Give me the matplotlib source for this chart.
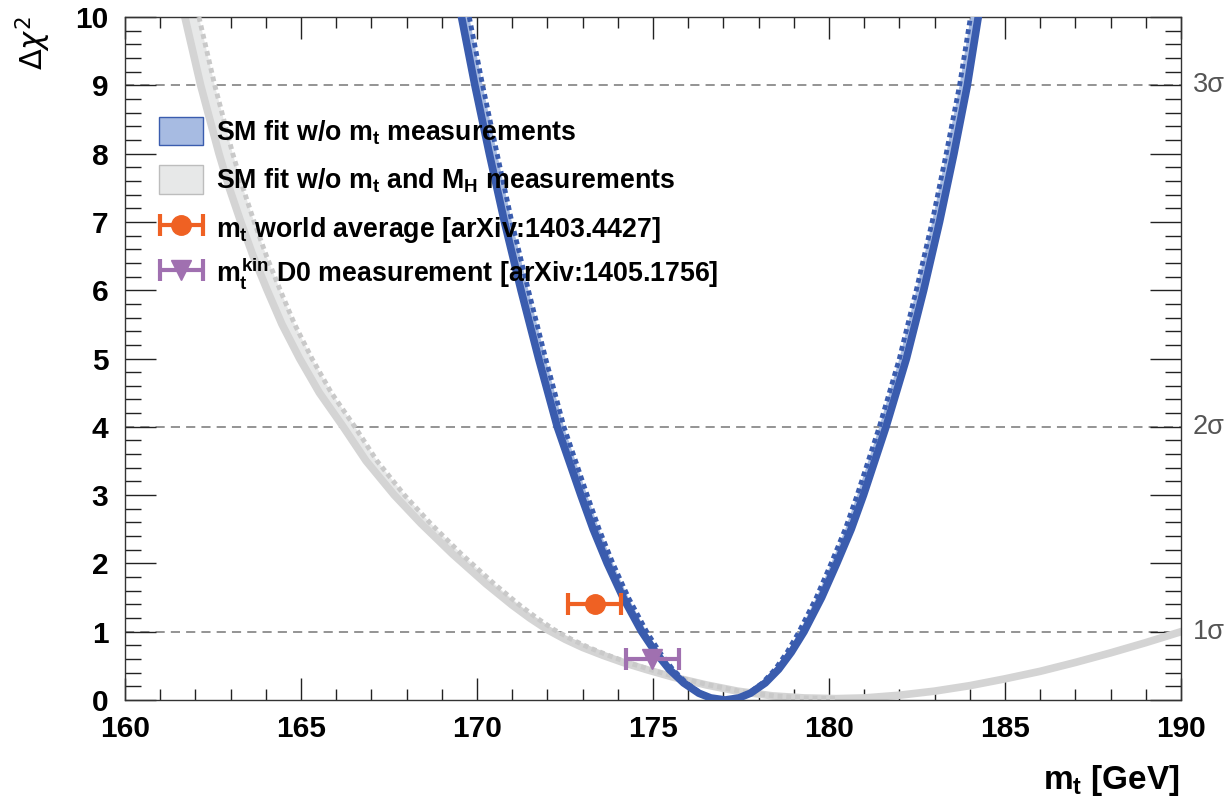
import matplotlib
matplotlib.use('Agg')
import numpy as np
import matplotlib.pyplot as plt
from matplotlib.patches import Patch
from matplotlib.ticker import MultipleLocator
from matplotlib.container import ErrorbarContainer
from matplotlib.legend_handler import HandlerErrorbar

plt.rcParams['font.family'] = 'Liberation Sans'
plt.rcParams['mathtext.fontset'] = 'custom'
plt.rcParams['mathtext.rm'] = 'Liberation Sans:bold'
plt.rcParams['mathtext.it'] = 'Liberation Sans:bold'
plt.rcParams['mathtext.bf'] = 'Liberation Sans:bold'

# SM fit w/o mt and MH : full curve and the curve without theory errors (dotted)
gray_mass = [161.70, 162.15, 162.67, 162.96, 163.29, 163.64, 164.04, 164.46, 164.96,
             165.52, 166.20, 166.85, 167.65, 168.40, 169.30, 170.26, 171.00, 171.50,
             172.00, 172.50, 173.00, 173.60, 174.15, 174.85, 175.57, 176.52, 177.40,
             178.40, 179.30, 180.20,
             181.00, 182.00, 183.00, 184.00, 185.00, 186.00, 187.00, 188.00, 189.00, 190.00]
gray_chi2 = [10.0, 9.0, 8.0, 7.5, 7.0, 6.5, 6.0, 5.5, 5.0,
             4.5, 4.0, 3.5, 3.0, 2.59, 2.14, 1.70, 1.39, 1.20,
             1.03, 0.89, 0.77, 0.65, 0.55, 0.44, 0.335, 0.22, 0.13,
             0.06, 0.03, 0.02,
             0.03, 0.07, 0.13, 0.21, 0.31, 0.42, 0.55, 0.69, 0.84, 1.00]
gray_dot_mass = [162.10, 162.55, 163.06, 163.35, 163.67, 164.02, 164.41, 164.82, 165.31,
                 165.86, 166.53, 167.16, 167.94, 168.67, 169.55, 170.49, 171.21, 171.70,
                 172.19, 172.68, 173.17, 173.75, 174.28, 174.96, 175.66, 176.59, 177.45,
                 178.43, 179.30, 180.20]
gray_dot_chi2 = gray_chi2[:len(gray_dot_mass)]

# SM fit w/o mt (left branch, minimum, right branch)
blue_chi2 = [10.0, 9.0, 8.0, 7.0, 6.0, 5.0, 4.0, 3.0, 2.5, 2.0, 1.5, 1.0, 0.7, 0.45,
             0.25, 0.1, 0.03, 0.0, 0.03, 0.1, 0.25, 0.45, 0.7, 1.0, 1.5, 2.0, 2.5, 3.0,
             4.0, 5.0, 6.0, 7.0, 8.0, 9.0, 10.0]
blue_mass = [169.56, 169.94, 170.35, 170.78, 171.25, 171.75, 172.28, 172.95, 173.30,
             173.70, 174.15, 174.68, 175.07, 175.46, 175.87, 176.30, 176.64, 177.05,
             177.44, 177.77, 178.19, 178.57, 178.93, 179.29, 179.79, 180.22, 180.63,
             180.98, 181.62, 182.20, 182.69, 183.14, 183.55, 183.93, 184.24]
blue_dot_mass = [169.78, 170.16, 170.57, 170.99, 171.46, 171.95, 172.47, 173.13, 173.47,
                 173.86, 174.30, 174.82, 175.19, 175.56, 175.95, 176.35, 176.67, 177.05,
                 177.41, 177.72, 178.11, 178.47, 178.81, 179.15, 179.64, 180.06, 180.46,
                 180.80, 181.43, 182.00, 182.48, 182.93, 183.33, 183.71, 184.02]

# direct measurements
wa_mass, wa_err, wa_y = 173.34, 0.76, 1.4
d0_mass, d0_err, d0_y = 174.98, 0.76, 0.6

sigma_levels = [1, 4, 9]
sigma_labels = ['1σ', '2σ', '3σ']

blue_line = '#3a5cae'
blue_band = '#a7bbe2'
gray_line = '#d4d4d4'
gray_band = '#e7e8e8'

fig = plt.figure(figsize=(12.32, 8.02), dpi=100)
ax = fig.add_axes([125/1232, 1-700/802, (1181-125)/1232, (700-17)/802])

for lvl in sigma_levels:
    ax.axhline(lvl, color='#777777', lw=1.1, ls=(0, (6, 4)), zorder=1)

# gray band between full and dotted curve (left branch only, they merge at the minimum)
n = len(gray_dot_mass)
ax.fill(np.r_[gray_mass[:n], gray_dot_mass[::-1]], np.r_[gray_chi2[:n], gray_dot_chi2[::-1]],
        color=gray_band, lw=0, zorder=2)
ax.plot(gray_mass, gray_chi2, color=gray_line, lw=5.5, solid_joinstyle='round', zorder=2.5)
ax.plot(gray_dot_mass, gray_dot_chi2, color='#c9c9c9', lw=3.5, ls=(0, (1, 0.8)), zorder=2.6)

ax.fill(np.r_[blue_mass, blue_dot_mass[::-1]], np.r_[blue_chi2, blue_chi2[::-1]],
        color=blue_band, lw=0, zorder=3)
ax.plot(blue_mass, blue_chi2, color=blue_line, lw=5.5, solid_joinstyle='round', zorder=3.5)
ax.plot(blue_dot_mass, blue_chi2, color=blue_line, lw=3.5, ls=(0, (1, 0.8)), zorder=3.6)

wa = ax.errorbar(wa_mass, wa_y, xerr=wa_err, fmt='o', color='#ef6123', ms=14,
                 elinewidth=3, capsize=8, capthick=3, zorder=6)
d0 = ax.errorbar(d0_mass, d0_y, xerr=d0_err, fmt='v', color='#a070b0', ms=15,
                 elinewidth=3, capsize=8, capthick=3, zorder=6)

ax.set_xlim(160, 190)
ax.set_ylim(0, 10)
ax.xaxis.set_major_locator(MultipleLocator(5))
ax.xaxis.set_minor_locator(MultipleLocator(1))
ax.yaxis.set_major_locator(MultipleLocator(1))
ax.yaxis.set_minor_locator(MultipleLocator(0.2))
ax.tick_params(which='both', direction='in', top=True, right=True, color='#222222', width=1)
ax.tick_params(axis='x', which='major', length=15.5, pad=11, labelsize=21.5)
ax.tick_params(axis='x', which='minor', length=8)
ax.tick_params(axis='y', which='major', length=22, pad=12, labelsize=21.5)
ax.tick_params(axis='y', which='minor', length=11.5)
for lab in ax.get_xticklabels() + ax.get_yticklabels():
    lab.set_fontweight('bold')
for sp in ax.spines.values():
    sp.set_color('#333333')
    sp.set_linewidth(1.0)

for lvl, lab in zip(sigma_levels, sigma_labels):
    ax.text(1.011, lvl, lab, transform=ax.get_yaxis_transform(), ha='left', va='center',
            fontsize=19.5, color='#555555')

# legend: the D0 entry gets its own box so the taller super/subscript label
# does not stretch the row spacing
leg_kw = dict(bbox_transform=fig.transFigure, frameon=False, borderpad=0, borderaxespad=0,
              handlelength=1.65, handleheight=1.25, handletextpad=0.47, labelspacing=0.7,
              handler_map={ErrorbarContainer: HandlerErrorbar(xerr_size=0.8)},
              prop={'family': 'Liberation Sans', 'weight': 'bold', 'size': 19.3})
handles = [Patch(facecolor=blue_band, edgecolor=blue_line, lw=1),
           Patch(facecolor=gray_band, edgecolor='#bdbdbd', lw=1),
           wa]
labels = ['SM fit w/o $m_t$ measurements',
          'SM fit w/o $m_t$ and $M_H$ measurements',
          '$m_t$ world average [arXiv:1403.4427]']
leg = ax.legend(handles, labels, loc='upper left', bbox_to_anchor=(159/1232, 1-117/802),
                **leg_kw)
leg.set_zorder(7)
ax.add_artist(leg)
leg2 = ax.legend([d0], ['$m_t^{kin}$ D0 measurement [arXiv:1405.1756]'], loc='center left',
                 bbox_to_anchor=(159/1232, 1-273/802), **leg_kw)
leg2.set_zorder(7)

fig.text(1180/1232, 1-780/802, '$m_t$ [GeV]', ha='right', va='center',
         fontsize=24, fontweight='bold')
fig.text(33/1232, 1-16/802, r'$\Delta\chi^{2}$', rotation=90, ha='center', va='top',
         fontsize=22, math_fontfamily='dejavusans')

fig.savefig('out.png', dpi=100)
